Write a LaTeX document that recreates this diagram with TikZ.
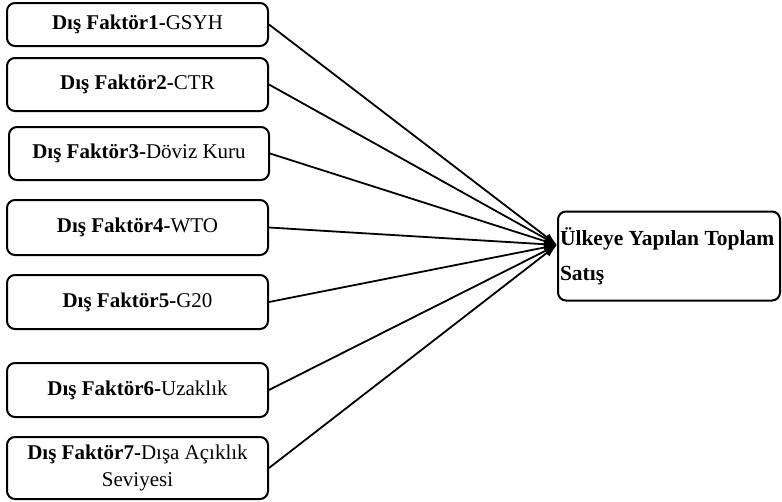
\documentclass[tikz,border=0pt]{standalone}
\usepackage{fontspec}
\setmainfont{Liberation Serif}
\usetikzlibrary{arrows.meta}
\begin{document}
\begin{tikzpicture}[x=1pt,y=-1pt,
  fbox/.style={draw=black, line width=2pt, rounded corners=8pt, fill=white,
    minimum width=261pt, inner sep=2pt, align=center,
    font=\fontsize{21}{27}\selectfont},
  conn/.style={line width=1.8pt, -{Latex[length=13pt,width=9pt]}}]
\useasboundingbox (0,0) rectangle (782,501);
\node[fbox, minimum height=43pt] (b1) at (137.5,24.5) {\textbf{Dış Faktör1-}GSYH};
\node[fbox, minimum height=53pt] (b2) at (137.5,84.5) {\textbf{Dış Faktör2-}CTR};
\node[fbox, minimum height=53pt, minimum width=260pt] (b3) at (139,153.5) {\textbf{Dış Faktör3-}Döviz Kuru};
\node[fbox, minimum height=55pt] (b4) at (137.5,227.5) {\textbf{Dış Faktör4-}WTO};
\node[fbox, minimum height=54pt] (b5) at (137.5,302) {\textbf{Dış Faktör5-}G20};
\node[fbox, minimum height=54pt] (b6) at (137.5,390) {\textbf{Dış Faktör6-}Uzaklık};
\node[fbox, minimum height=62pt] (b7) at (137.5,468) {\textbf{Dış Faktör7-}Dışa Açıklık\\Seviyesi};
\node[fbox, minimum height=89pt, minimum width=222pt, text width=218pt, align=flush left,
  font=\fontsize{21.5}{35}\selectfont\bfseries] (r) at (669,256) {Ülkeye Yapılan Toplam\\Satış};
\coordinate (tip) at (557,245);
\foreach \i in {1,...,7} {
  \draw[conn] (b\i.east) -- (tip);
}
\end{tikzpicture}
\end{document}
